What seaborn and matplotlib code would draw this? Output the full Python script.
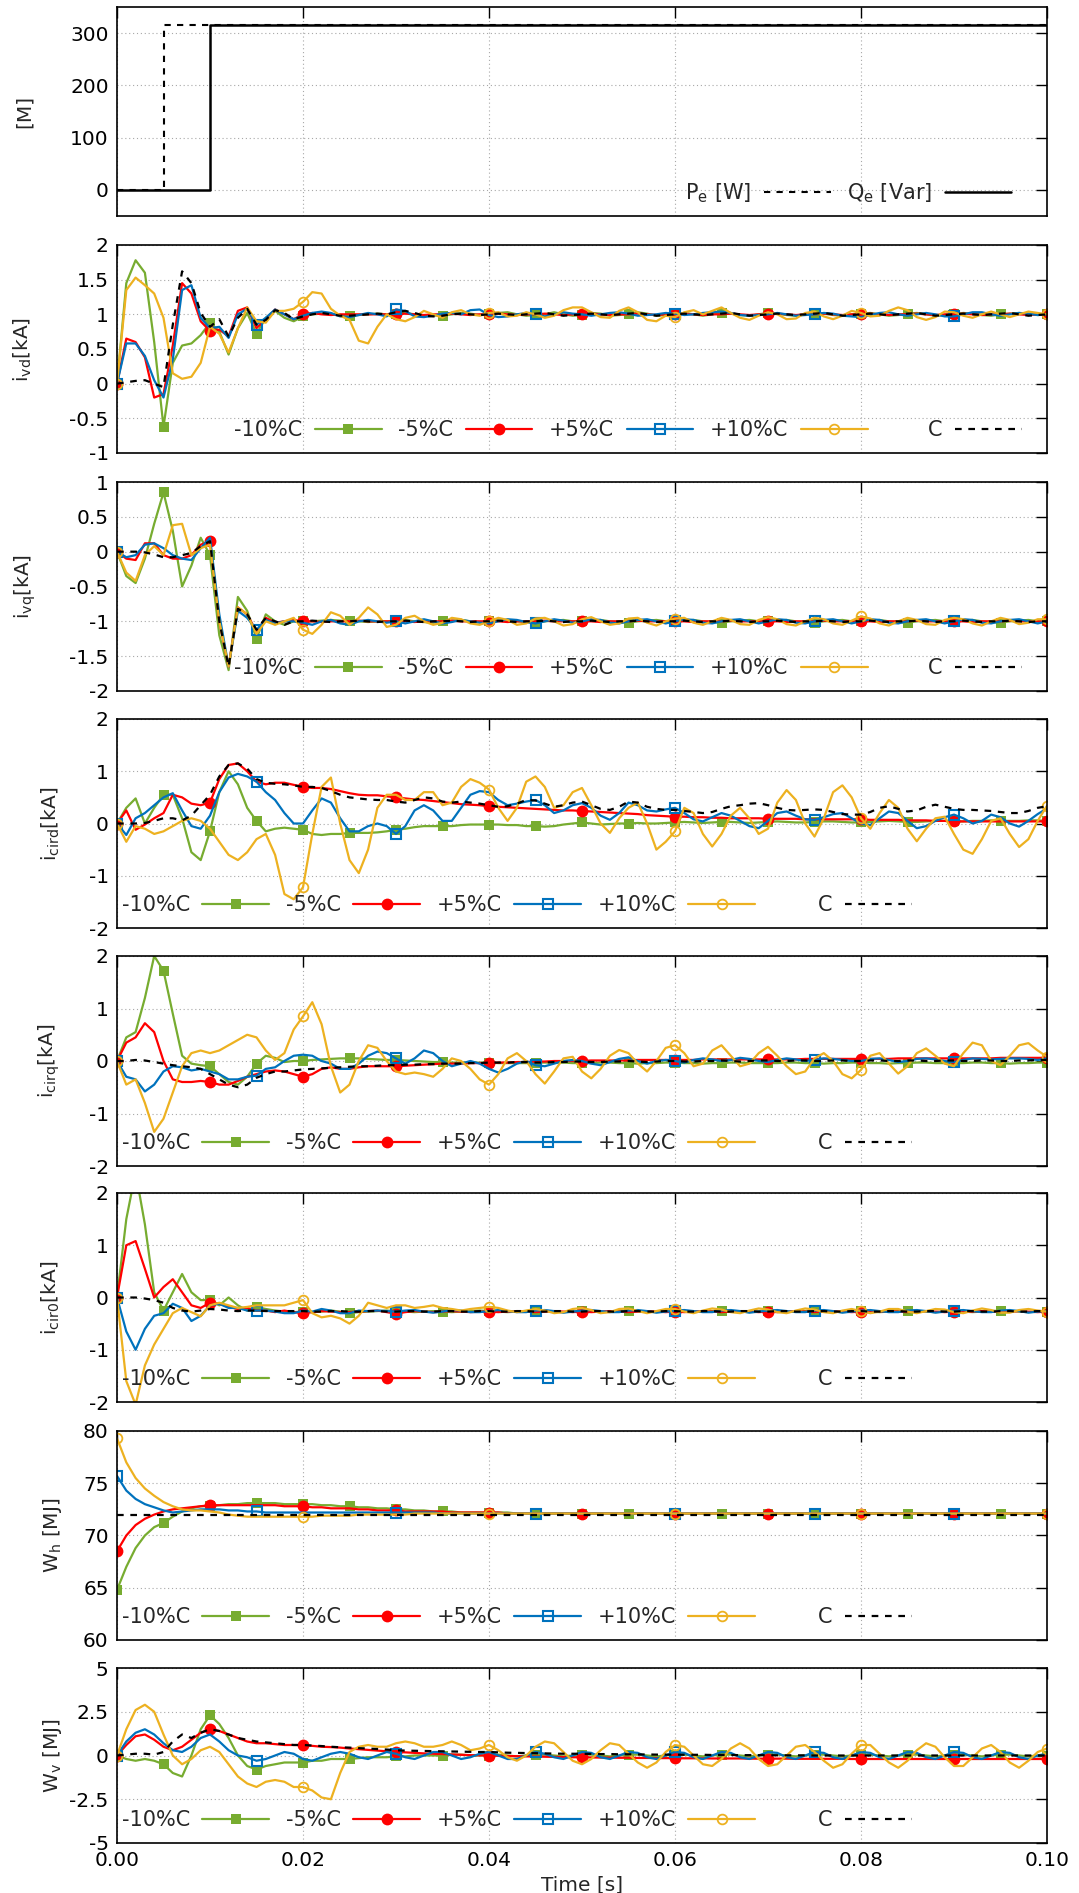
import numpy as np
import matplotlib
matplotlib.use("Agg")
import matplotlib.pyplot as plt
import seaborn as sns
from matplotlib.ticker import FuncFormatter, MultipleLocator

# time grid (s), one sample per ms
time_s = np.round(np.arange(101) * 0.001, 3)

# panel 1: power references
p1_time = [0.0, 0.005, 0.01, 0.1]
pe_ref = [0, 315, 315, 315]
qe_ref = [0, 0, 315, 315]

# panel 2: i_vd [kA]
ivd_m10 = [0, 1.45, 1.78, 1.6, 0.6, -0.62, 0.3, 0.55, 0.58, 0.7,
           0.88, 0.75, 0.42, 0.8, 1.02, 0.72, 0.95, 1.05, 0.95, 0.9,
           0.97, 1.0, 1.01, 1.0, 0.99, 0.98, 0.99, 1.0, 1.01, 1.0,
           1.01, 1.02, 1.0, 0.98, 0.99, 0.98, 1.0, 1.02, 1.01, 0.99,
           1.0, 1.02, 1.03, 1.0, 0.98, 0.99, 1.0, 1.03, 1.0, 0.98,
           0.99, 1.02, 1.01, 0.98, 0.99, 1.0, 1.03, 1.01, 0.98, 0.99,
           1.0, 1.02, 1.0, 0.98, 1.0, 1.02, 1.01, 0.99, 0.98, 1.0,
           1.02, 1.01, 0.99, 0.98, 1.0, 1.02, 1.01, 0.99, 0.98, 1.0,
           1.01, 1.02, 1.0, 0.98, 0.99, 1.01, 1.02, 1.0, 0.98, 0.99,
           1.0, 1.02, 1.01, 0.99, 0.98, 1.0, 1.01, 1.02, 1.0, 0.99,
           1.0]
ivd_m5 = [0, 0.65, 0.6, 0.38, -0.2, -0.15, 0.55, 1.45, 1.3, 0.9,
          0.76, 0.78, 0.68, 1.05, 1.1, 0.8, 0.93, 1.07, 1.0, 0.93,
          1.0, 1.02, 1.0, 0.99, 1.0, 1.0, 1.0, 1.0, 1.0, 1.0,
          1.0, 1.01, 1.0, 0.99, 1.0, 1.0, 1.01, 1.0, 0.99, 1.0,
          1.0, 1.01, 1.0, 0.99, 1.0, 1.0, 1.01, 1.0, 0.99, 1.0,
          1.0, 1.01, 1.0, 0.99, 1.0, 1.0, 1.01, 1.0, 0.99, 1.0,
          1.0, 1.01, 1.0, 0.99, 1.0, 1.0, 1.01, 1.0, 0.99, 1.0,
          1.0, 1.01, 1.0, 0.99, 1.0, 1.0, 1.01, 1.0, 0.99, 1.0,
          1.0, 1.01, 1.0, 0.99, 1.0, 1.0, 1.01, 1.0, 0.99, 1.0,
          1.0, 1.01, 1.0, 0.99, 1.0, 1.0, 1.01, 1.0, 0.99, 1.0,
          1.0]
ivd_p5 = [0, 0.58, 0.58, 0.4, 0.05, -0.2, 0.35, 1.35, 1.42, 0.95,
          0.8, 0.82, 0.66, 1.0, 1.08, 0.85, 0.95, 1.07, 1.0, 0.93,
          0.98, 1.02, 1.04, 1.02, 0.97, 0.96, 0.99, 1.02, 1.0, 0.97,
          1.07, 1.05, 0.97, 0.96, 0.98, 1.01, 1.02, 1.0, 1.06, 1.07,
          0.99, 0.96, 0.97, 1.0, 1.02, 1.0, 0.97, 1.0, 1.03, 1.01,
          1.0, 0.98, 1.0, 1.02, 1.03, 1.01, 0.98, 0.99, 1.0, 1.02,
          1.01, 0.99, 1.0, 1.02, 1.03, 1.04, 1.02, 0.99, 0.98, 0.99,
          1.0, 1.02, 1.0, 0.98, 0.99, 1.0, 1.02, 1.01, 0.98, 0.97,
          0.96, 0.99, 1.02, 1.03, 1.0, 0.98, 1.0, 1.02, 1.0, 0.97,
          0.97, 1.0, 1.03, 1.03, 1.0, 0.98, 1.0, 1.02, 1.01, 0.99,
          1.0]
ivd_p10 = [0, 1.35, 1.53, 1.42, 1.3, 0.95, 0.15, 0.07, 0.1, 0.3,
           0.82, 0.72, 0.45, 0.8, 1.1, 0.9, 0.88, 1.05, 1.05, 1.08,
           1.18, 1.32, 1.3, 1.08, 0.98, 0.92, 0.62, 0.58, 0.82, 1.0,
           0.93, 0.9, 0.96, 1.05, 1.0, 0.95, 1.03, 1.06, 1.0, 0.98,
           1.02, 1.03, 0.97, 0.98, 1.03, 1.0, 0.95, 0.98, 1.06, 1.1,
           1.1, 1.03, 0.96, 0.95, 1.05, 1.1, 1.03, 0.92, 0.9, 0.98,
           0.96, 1.03, 1.06, 1.0, 1.05, 1.1, 1.02, 0.95, 0.92, 0.98,
           1.03, 1.0, 0.93, 0.94, 1.02, 1.04, 0.97, 0.93, 0.98, 1.05,
           1.02, 0.97, 0.98, 1.05, 1.1, 1.06, 0.96, 0.92, 0.96, 1.04,
           1.03, 0.98, 0.95, 1.0, 1.04, 1.0, 0.96, 1.0, 1.04, 1.02,
           1.0]
ivd_c = [0, 0.02, 0.04, 0.05, 0.0, -0.05, 0.85, 1.62, 1.45, 1.02,
         0.82, 0.93, 0.68, 0.95, 1.08, 0.85, 0.92, 1.06, 1.02, 0.93,
         0.97, 1.0, 1.02, 1.0, 0.98, 0.98, 0.99, 1.0, 1.01, 1.0,
         1.03, 1.05, 1.02, 0.98, 0.97, 0.98, 1.0, 1.01, 1.0, 0.99,
         1.0, 1.01, 1.0, 0.99, 1.0, 1.01, 1.02, 1.0, 0.98, 0.99,
         1.0, 1.01, 1.0, 0.99, 1.0, 1.01, 1.02, 1.0, 0.98, 0.99,
         1.0, 1.01, 1.0, 0.99, 1.0, 1.01, 1.02, 1.0, 0.98, 0.99,
         1.0, 1.01, 1.0, 0.99, 1.0, 1.01, 1.02, 1.0, 0.98, 0.99,
         1.0, 1.01, 1.0, 0.99, 1.0, 1.01, 1.02, 1.0, 0.98, 0.99,
         1.0, 1.01, 1.0, 0.99, 1.0, 1.01, 1.02, 1.0, 0.98, 0.99,
         1.0]

# panel 3: i_vq [kA]
ivq_m10 = [0, -0.35, -0.45, -0.1, 0.4, 0.85, 0.3, -0.5, -0.2, 0.2,
           -0.05, -1.2, -1.7, -0.65, -0.85, -1.25, -0.9, -1.0, -1.05, -1.0,
           -1.0, -1.0, -0.99, -0.98, -0.99, -1.0, -1.0, -1.01, -1.0, -1.0,
           -0.99, -0.98, -1.0, -1.01, -1.02, -1.0, -0.99, -0.98, -1.0, -1.01,
           -1.0, -0.99, -0.98, -1.0, -1.01, -1.02, -1.0, -0.99, -0.98, -1.0,
           -1.0, -0.99, -0.98, -1.0, -1.01, -1.02, -1.0, -0.99, -0.98, -1.0,
           -1.0, -0.99, -0.98, -1.0, -1.01, -1.02, -1.0, -0.99, -0.98, -1.0,
           -1.0, -0.99, -0.98, -1.0, -1.01, -1.02, -1.0, -0.99, -0.98, -1.0,
           -1.0, -0.99, -0.98, -1.0, -1.01, -1.02, -1.0, -0.99, -0.98, -1.0,
           -1.0, -0.99, -0.98, -1.0, -1.01, -1.02, -1.0, -0.99, -0.98, -1.0,
           -1.0]
ivq_m5 = [0, -0.1, -0.12, 0.12, 0.12, -0.05, -0.1, -0.1, -0.05, 0.1,
          0.15, -1.0, -1.65, -0.8, -0.9, -1.15, -0.95, -1.02, -1.0, -0.98,
          -1.0, -1.0, -1.01, -1.0, -1.0, -1.0, -0.99, -1.0, -1.0, -1.0,
          -1.0, -1.0, -1.01, -1.0, -1.0, -1.0, -0.99, -1.0, -1.0, -1.0,
          -1.0, -1.0, -1.01, -1.0, -1.0, -1.0, -0.99, -1.0, -1.0, -1.0,
          -1.0, -1.0, -1.01, -1.0, -1.0, -1.0, -0.99, -1.0, -1.0, -1.0,
          -1.0, -1.0, -1.01, -1.0, -1.0, -1.0, -0.99, -1.0, -1.0, -1.0,
          -1.0, -1.0, -1.01, -1.0, -1.0, -1.0, -0.99, -1.0, -1.0, -1.0,
          -1.0, -1.0, -1.01, -1.0, -1.0, -1.0, -0.99, -1.0, -1.0, -1.0,
          -1.0, -1.0, -1.01, -1.0, -1.0, -1.0, -0.99, -1.0, -1.0, -1.0,
          -1.0]
ivq_p5 = [0, -0.08, -0.05, 0.1, 0.12, 0.05, -0.05, -0.1, -0.12, 0.05,
          0.2, -0.9, -1.65, -0.85, -0.95, -1.12, -0.98, -1.03, -1.0, -1.0,
          -1.02, -1.05, -1.0, -0.98, -1.03, -1.05, -1.0, -0.98, -1.0, -1.02,
          -1.0, -1.03, -1.0, -0.97, -1.0, -1.03, -1.01, -0.98, -1.0, -1.02,
          -1.03, -1.0, -0.97, -0.98, -1.01, -1.03, -1.0, -0.97, -0.99, -1.02,
          -1.0, -0.97, -0.98, -1.02, -1.03, -1.0, -0.98, -0.97, -1.0, -1.03,
          -1.0, -0.97, -0.98, -1.02, -1.03, -1.0, -0.98, -0.97, -1.0, -1.03,
          -1.0, -0.97, -0.98, -1.02, -1.03, -1.0, -0.98, -0.97, -1.0, -1.03,
          -1.0, -0.97, -0.98, -1.02, -1.03, -1.0, -0.98, -0.97, -1.0, -1.03,
          -1.0, -0.97, -0.98, -1.02, -1.03, -1.0, -0.98, -0.97, -1.0, -1.03,
          -1.0]
ivq_p10 = [0, -0.3, -0.42, -0.05, 0.08, -0.05, 0.38, 0.4, -0.05, 0.05,
           0.1, -1.0, -1.65, -0.8, -0.9, -1.18, -1.0, -1.05, -1.0, -0.95,
           -1.12, -1.18, -1.05, -0.87, -0.92, -1.05, -0.95, -0.8, -0.9, -1.08,
           -1.05, -0.95, -0.92, -1.0, -1.05, -1.02, -0.95, -0.97, -1.03, -1.05,
           -1.0, -0.95, -0.98, -1.05, -1.03, -0.96, -0.95, -1.0, -1.06, -1.04,
           -0.97, -0.94, -1.0, -1.05, -1.03, -0.96, -0.95, -1.02, -1.06, -1.0,
           -0.96, -0.95, -1.02, -1.05, -1.0, -0.95, -0.98, -1.04, -1.05, -0.98,
           -0.94, -0.97, -1.04, -1.06, -1.0, -0.95, -0.97, -1.03, -1.05, -0.99,
           -0.93, -0.96, -1.03, -1.06, -1.0, -0.95, -0.98, -1.04, -1.05, -0.98,
           -0.95, -0.97, -1.03, -1.06, -1.0, -0.95, -0.98, -1.04, -1.02, -0.97,
           -0.97]
ivq_c = [0, 0.0, 0.0, -0.01, -0.04, -0.08, -0.08, -0.05, -0.02, 0.08,
         0.15, -1.0, -1.65, -0.82, -0.9, -1.12, -0.95, -1.0, -1.05, -1.0,
         -1.0, -0.99, -1.0, -1.01, -1.0, -1.0, -0.99, -1.0, -1.01, -1.0,
         -1.0, -0.99, -1.0, -1.01, -1.0, -1.0, -0.99, -1.0, -1.01, -1.0,
         -1.0, -0.99, -1.0, -1.01, -1.0, -1.0, -0.99, -1.0, -1.01, -1.0,
         -1.0, -0.99, -1.0, -1.01, -1.0, -1.0, -0.99, -1.0, -1.01, -1.0,
         -1.0, -0.99, -1.0, -1.01, -1.0, -1.0, -0.99, -1.0, -1.01, -1.0,
         -1.0, -0.99, -1.0, -1.01, -1.0, -1.0, -0.99, -1.0, -1.01, -1.0,
         -1.0, -0.99, -1.0, -1.01, -1.0, -1.0, -0.99, -1.0, -1.01, -1.0,
         -1.0, -0.99, -1.0, -1.01, -1.0, -1.0, -0.99, -1.0, -1.01, -1.0,
         -1.0]

# panel 4: i_cird [kA]
icd_m10 = [0, 0.3, 0.48, 0.0, 0.3, 0.55, 0.55, 0.1, -0.55, -0.7,
           -0.15, 0.6, 1.0, 0.75, 0.3, 0.05, -0.15, -0.1, -0.08, -0.1,
           -0.12, -0.2, -0.22, -0.2, -0.2, -0.18, -0.18, -0.18, -0.17, -0.15,
           -0.12, -0.1, -0.07, -0.05, -0.05, -0.05, -0.05, -0.03, -0.02, -0.02,
           -0.02, -0.02, -0.03, -0.03, -0.05, -0.05, -0.06, -0.05, -0.02, 0.0,
           0.02, 0.0, -0.02, -0.01, 0.0, 0.0, 0.01, 0.0, 0.0, 0.01,
           0.02, 0.03, 0.02, 0.01, 0.02, 0.03, 0.03, 0.02, 0.01, 0.02,
           0.03, 0.04, 0.03, 0.02, 0.02, 0.03, 0.04, 0.04, 0.03, 0.02,
           0.02, 0.03, 0.04, 0.05, 0.04, 0.03, 0.03, 0.04, 0.05, 0.05,
           0.04, 0.04, 0.05, 0.05, 0.06, 0.05, 0.05, 0.05, 0.06, 0.06,
           0.05]
icd_m5 = [0, 0.25, -0.12, -0.02, 0.1, 0.2, 0.55, 0.5, 0.38, 0.35,
          0.4, 0.85, 1.12, 1.15, 1.0, 0.8, 0.75, 0.78, 0.78, 0.74,
          0.7, 0.68, 0.68, 0.66, 0.62, 0.58, 0.55, 0.54, 0.54, 0.52,
          0.5, 0.48, 0.46, 0.45, 0.43, 0.41, 0.39, 0.37, 0.36, 0.35,
          0.33, 0.32, 0.31, 0.3, 0.29, 0.28, 0.27, 0.26, 0.25, 0.25,
          0.24, 0.23, 0.22, 0.21, 0.2, 0.19, 0.18, 0.16, 0.15, 0.14,
          0.13, 0.13, 0.12, 0.12, 0.11, 0.11, 0.1, 0.1, 0.1, 0.1,
          0.09, 0.09, 0.09, 0.09, 0.08, 0.08, 0.08, 0.08, 0.08, 0.08,
          0.08, 0.07, 0.07, 0.07, 0.07, 0.06, 0.06, 0.06, 0.05, 0.05,
          0.04, 0.04, 0.04, 0.04, 0.04, 0.04, 0.04, 0.04, 0.04, 0.04,
          0.04]
icd_p5 = [0, -0.22, 0.1, 0.2, 0.35, 0.5, 0.58, 0.25, -0.05, -0.1,
          0.15, 0.6, 0.88, 0.95, 0.9, 0.8, 0.6, 0.45, 0.2, 0.0,
          0.0, 0.25, 0.48, 0.4, 0.1, -0.15, -0.15, -0.05, 0.0, -0.05,
          -0.2, -0.05, 0.25, 0.35, 0.25, 0.05, 0.05, 0.3, 0.55, 0.62,
          0.6, 0.45, 0.35, 0.38, 0.42, 0.45, 0.35, 0.2, 0.25, 0.35,
          0.39, 0.3, 0.15, 0.07, 0.2, 0.4, 0.35, 0.25, 0.23, 0.27,
          0.3, 0.2, 0.08, 0.04, 0.12, 0.2, 0.15, 0.05, -0.05, -0.09,
          0.05, 0.2, 0.23, 0.15, 0.08, 0.07, 0.12, 0.18, 0.2, 0.1,
          0.0, -0.03, 0.1, 0.23, 0.2, 0.05, -0.09, -0.05, 0.05, 0.12,
          0.17, 0.1, 0.0, 0.05, 0.17, 0.12, 0.0, -0.06, 0.05, 0.18,
          0.29]
icd_p10 = [0, -0.35, -0.05, -0.1, -0.2, -0.15, -0.05, 0.05, 0.1, 0.05,
           -0.1, -0.35, -0.6, -0.7, -0.55, -0.3, -0.2, -0.6, -1.35, -1.45,
           -1.22, -0.2, 0.7, 0.88, 0.0, -0.7, -0.95, -0.5, 0.3, 0.55,
           0.55, 0.45, 0.45, 0.6, 0.6, 0.35, 0.4, 0.7, 0.85, 0.78,
           0.65, 0.3, 0.05, 0.3, 0.8, 0.9, 0.7, 0.3, 0.35, 0.6,
           0.68, 0.35, 0.0, -0.18, 0.1, 0.3, 0.4, 0.0, -0.5, -0.35,
           -0.15, 0.3, 0.2, -0.2, -0.44, -0.2, 0.15, 0.3, 0.1, -0.2,
           -0.1, 0.4, 0.64, 0.45, 0.0, -0.25, 0.1, 0.6, 0.73, 0.5,
           0.1, -0.1, 0.2, 0.45, 0.3, -0.1, -0.34, -0.1, 0.1, 0.13,
           -0.2, -0.5, -0.58, -0.3, 0.05, 0.1, -0.2, -0.45, -0.3, 0.05,
           0.34]
icd_c = [0, 0.0, 0.0, 0.01, 0.05, 0.1, 0.1, 0.06, 0.15, 0.35,
         0.55, 0.9, 1.12, 1.15, 1.05, 0.85, 0.78, 0.76, 0.75, 0.73,
         0.7, 0.7, 0.68, 0.62, 0.55, 0.5, 0.48, 0.46, 0.45, 0.45,
         0.42, 0.4, 0.45, 0.5, 0.48, 0.42, 0.4, 0.42, 0.4, 0.38,
         0.35, 0.32, 0.33, 0.38, 0.45, 0.44, 0.38, 0.32, 0.35, 0.4,
         0.42, 0.35, 0.28, 0.26, 0.32, 0.42, 0.4, 0.32, 0.28, 0.26,
         0.26, 0.24, 0.22, 0.2, 0.22, 0.28, 0.33, 0.35, 0.38, 0.39,
         0.35, 0.3, 0.26, 0.25, 0.26, 0.27, 0.26, 0.22, 0.18, 0.17,
         0.17, 0.22, 0.3, 0.33, 0.28, 0.23, 0.25, 0.32, 0.36, 0.32,
         0.28, 0.26, 0.26, 0.25, 0.24, 0.22, 0.2, 0.2, 0.24, 0.3,
         0.33]

# panel 5: i_cirq [kA]
icq_m10 = [0, 0.45, 0.55, 1.2, 2.0, 1.72, 0.9, 0.1, -0.05, -0.08,
           -0.1, -0.25, -0.4, -0.45, -0.3, -0.05, 0.1, 0.06, -0.02, 0.0,
           0.0, 0.02, 0.03, 0.04, 0.05, 0.05, 0.05, 0.04, 0.03, 0.02,
           0.02, 0.01, 0.0, -0.01, -0.02, -0.02, -0.03, -0.03, -0.03, -0.03,
           -0.03, -0.04, -0.04, -0.04, -0.04, -0.03, -0.03, -0.03, -0.03, -0.04,
           -0.04, -0.04, -0.03, -0.03, -0.04, -0.04, -0.05, -0.04, -0.04, -0.03,
           -0.03, -0.04, -0.04, -0.05, -0.04, -0.04, -0.03, -0.03, -0.04, -0.04,
           -0.04, -0.04, -0.03, -0.03, -0.04, -0.04, -0.05, -0.04, -0.04, -0.03,
           -0.03, -0.04, -0.04, -0.05, -0.04, -0.04, -0.03, -0.03, -0.04, -0.04,
           -0.04, -0.04, -0.03, -0.03, -0.04, -0.04, -0.05, -0.04, -0.04, -0.03,
           -0.03]
icq_m5 = [0, 0.35, 0.45, 0.72, 0.55, 0.0, -0.35, -0.4, -0.4, -0.38,
          -0.4, -0.45, -0.45, -0.38, -0.3, -0.25, -0.2, -0.18, -0.2, -0.25,
          -0.3, -0.25, -0.15, -0.12, -0.15, -0.15, -0.12, -0.1, -0.1, -0.1,
          -0.1, -0.09, -0.08, -0.07, -0.06, -0.05, -0.05, -0.05, -0.04, -0.04,
          -0.04, -0.03, -0.03, -0.02, -0.02, -0.01, -0.01, 0.0, 0.0, 0.0,
          0.0, 0.01, 0.01, 0.01, 0.01, 0.01, 0.02, 0.02, 0.02, 0.02,
          0.02, 0.02, 0.02, 0.03, 0.03, 0.03, 0.03, 0.03, 0.03, 0.03,
          0.03, 0.03, 0.03, 0.03, 0.04, 0.04, 0.04, 0.04, 0.04, 0.04,
          0.04, 0.04, 0.04, 0.04, 0.05, 0.05, 0.05, 0.05, 0.05, 0.05,
          0.05, 0.05, 0.05, 0.05, 0.05, 0.06, 0.06, 0.06, 0.06, 0.06,
          0.06]
icq_p5 = [0, -0.3, -0.35, -0.58, -0.45, -0.2, -0.1, -0.12, -0.18, -0.15,
          -0.2, -0.25, -0.35, -0.35, -0.3, -0.28, -0.15, -0.12, 0.0, 0.1,
          0.12, 0.1, 0.0, -0.05, -0.15, -0.15, -0.05, 0.1, 0.18, 0.15,
          0.05, -0.05, 0.05, 0.2, 0.15, 0.0, -0.1, -0.05, 0.0, -0.05,
          -0.15, -0.22, -0.15, -0.05, 0.0, -0.08, -0.1, -0.05, 0.0, 0.02,
          0.0, -0.05, -0.08, -0.02, 0.04, 0.07, 0.0, -0.05, 0.0, 0.02,
          0.0, -0.03, 0.02, 0.05, 0.03, 0.0, 0.02, 0.06, 0.04, 0.0,
          -0.02, 0.02, 0.05, 0.03, 0.0, 0.02, 0.05, 0.04, 0.02, 0.0,
          0.0, 0.04, 0.05, 0.02, -0.02, 0.0, 0.04, 0.05, 0.03, 0.0,
          -0.02, 0.02, 0.05, 0.04, 0.03, 0.04, 0.05, 0.05, 0.04, 0.02,
          0.05]
icq_p10 = [0, -0.45, -0.35, -0.8, -1.35, -1.1, -0.6, -0.1, 0.15, 0.2,
           0.15, 0.2, 0.3, 0.4, 0.5, 0.45, 0.2, 0.02, 0.15, 0.6,
           0.85, 1.12, 0.7, -0.1, -0.6, -0.45, 0.0, 0.3, 0.25, 0.0,
           -0.2, -0.25, -0.22, -0.25, -0.3, -0.15, 0.05, 0.0, -0.15, -0.35,
           -0.45, -0.25, 0.05, 0.15, 0.0, -0.25, -0.43, -0.2, 0.05, 0.08,
           -0.2, -0.33, -0.15, 0.1, 0.21, 0.15, -0.05, -0.2, 0.0, 0.25,
           0.3, 0.15, -0.1, -0.05, 0.2, 0.3, 0.1, -0.1, -0.05, 0.15,
           0.27, 0.1, -0.1, -0.25, -0.2, 0.05, 0.15, 0.0, -0.25, -0.33,
           -0.17, 0.1, 0.15, -0.05, -0.24, -0.1, 0.15, 0.24, 0.1, -0.05,
           -0.1, 0.15, 0.35, 0.3, 0.0, -0.08, 0.1, 0.3, 0.34, 0.2,
           0.08]
icq_c = [0, 0.0, 0.02, 0.01, -0.02, -0.05, -0.08, -0.1, -0.12, -0.15,
         -0.25, -0.35, -0.45, -0.5, -0.45, -0.32, -0.25, -0.2, -0.2, -0.18,
         -0.16, -0.15, -0.14, -0.13, -0.12, -0.11, -0.1, -0.1, -0.09, -0.08,
         -0.08, -0.07, -0.07, -0.06, -0.06, -0.05, -0.05, -0.05, -0.04, -0.04,
         -0.03, -0.03, -0.03, -0.02, -0.02, -0.03, -0.03, -0.02, -0.02, -0.01,
         -0.01, -0.02, -0.02, -0.01, -0.01, 0.0, -0.01, -0.02, -0.01, 0.0,
         0.0, -0.01, -0.01, 0.0, 0.0, 0.01, 0.0, -0.01, 0.0, 0.01,
         0.01, 0.0, 0.0, 0.01, 0.01, 0.0, 0.0, 0.01, 0.01, 0.0,
         0.0, 0.01, 0.01, 0.0, 0.0, 0.01, 0.01, 0.0, 0.0, 0.01,
         0.01, 0.0, 0.0, 0.01, 0.01, 0.0, 0.0, 0.01, 0.01, 0.02,
         0.02]

# panel 6: i_cir0 [kA]
ic0_m10 = [0, 1.5, 2.4, 1.4, 0.1, -0.25, 0.1, 0.45, 0.1, -0.05,
           -0.05, -0.15, 0.0, -0.15, -0.25, -0.18, -0.22, -0.25, -0.27, -0.28,
           -0.27, -0.28, -0.27, -0.25, -0.27, -0.3, -0.28, -0.27, -0.26, -0.25,
           -0.26, -0.27, -0.28, -0.27, -0.26, -0.27, -0.28, -0.27, -0.26, -0.25,
           -0.26, -0.27, -0.28, -0.27, -0.26, -0.25, -0.26, -0.27, -0.28, -0.27,
           -0.26, -0.27, -0.28, -0.27, -0.26, -0.25, -0.26, -0.27, -0.28, -0.27,
           -0.26, -0.27, -0.28, -0.27, -0.26, -0.25, -0.26, -0.27, -0.28, -0.27,
           -0.26, -0.27, -0.28, -0.27, -0.26, -0.25, -0.26, -0.27, -0.28, -0.27,
           -0.26, -0.27, -0.28, -0.27, -0.26, -0.25, -0.26, -0.27, -0.28, -0.27,
           -0.26, -0.27, -0.28, -0.27, -0.26, -0.25, -0.26, -0.27, -0.28, -0.27,
           -0.27]
ic0_m5 = [0, 1.0, 1.08, 0.55, 0.0, 0.2, 0.35, 0.1, -0.15, -0.2,
          -0.1, -0.12, -0.18, -0.22, -0.2, -0.25, -0.25, -0.28, -0.25, -0.28,
          -0.3, -0.28, -0.26, -0.27, -0.28, -0.28, -0.27, -0.26, -0.25, -0.28,
          -0.31, -0.28, -0.26, -0.27, -0.28, -0.27, -0.26, -0.27, -0.28, -0.27,
          -0.27, -0.28, -0.27, -0.26, -0.27, -0.28, -0.27, -0.26, -0.27, -0.28,
          -0.27, -0.28, -0.27, -0.26, -0.27, -0.28, -0.27, -0.26, -0.27, -0.28,
          -0.27, -0.28, -0.27, -0.26, -0.27, -0.28, -0.27, -0.26, -0.27, -0.28,
          -0.27, -0.28, -0.27, -0.26, -0.27, -0.28, -0.27, -0.26, -0.27, -0.28,
          -0.27, -0.28, -0.27, -0.26, -0.27, -0.28, -0.27, -0.26, -0.27, -0.28,
          -0.27, -0.28, -0.27, -0.26, -0.27, -0.28, -0.27, -0.26, -0.27, -0.28,
          -0.27]
ic0_p5 = [0, -0.65, -1.0, -0.6, -0.35, -0.3, -0.12, -0.2, -0.45, -0.35,
          -0.15, -0.12, -0.2, -0.2, -0.25, -0.25, -0.25, -0.27, -0.3, -0.3,
          -0.25, -0.27, -0.22, -0.25, -0.3, -0.3, -0.25, -0.26, -0.25, -0.26,
          -0.27, -0.25, -0.24, -0.27, -0.29, -0.27, -0.24, -0.25, -0.28, -0.28,
          -0.26, -0.24, -0.26, -0.28, -0.28, -0.25, -0.24, -0.26, -0.29, -0.27,
          -0.25, -0.24, -0.26, -0.28, -0.28, -0.25, -0.24, -0.26, -0.29, -0.27,
          -0.25, -0.24, -0.26, -0.28, -0.28, -0.25, -0.24, -0.26, -0.29, -0.27,
          -0.25, -0.24, -0.26, -0.28, -0.28, -0.25, -0.24, -0.26, -0.29, -0.27,
          -0.25, -0.24, -0.26, -0.28, -0.28, -0.25, -0.24, -0.26, -0.29, -0.27,
          -0.25, -0.24, -0.26, -0.28, -0.28, -0.25, -0.24, -0.26, -0.29, -0.27,
          -0.26]
ic0_p10 = [0, -1.6, -2.05, -1.3, -0.9, -0.6, -0.3, -0.2, -0.28, -0.36,
           -0.15, -0.1, -0.15, -0.2, -0.18, -0.15, -0.15, -0.15, -0.15, -0.1,
           -0.05, -0.3, -0.38, -0.35, -0.4, -0.5, -0.35, -0.1, -0.15, -0.2,
           -0.15, -0.15, -0.2, -0.18, -0.15, -0.2, -0.22, -0.25, -0.22, -0.2,
           -0.18, -0.2, -0.25, -0.28, -0.25, -0.22, -0.25, -0.3, -0.28, -0.22,
           -0.2, -0.24, -0.3, -0.28, -0.22, -0.21, -0.26, -0.3, -0.26, -0.22,
           -0.22, -0.27, -0.3, -0.25, -0.21, -0.23, -0.28, -0.3, -0.25, -0.21,
           -0.23, -0.28, -0.3, -0.25, -0.21, -0.23, -0.28, -0.3, -0.25, -0.22,
           -0.26, -0.3, -0.27, -0.22, -0.22, -0.27, -0.3, -0.26, -0.22, -0.23,
           -0.28, -0.3, -0.25, -0.21, -0.24, -0.29, -0.29, -0.24, -0.22, -0.25,
           -0.27]
ic0_c = [0, 0.0, 0.0, -0.02, -0.05, -0.1, -0.2, -0.25, -0.27, -0.25,
         -0.22, -0.23, -0.25, -0.26, -0.25, -0.25, -0.26, -0.26, -0.26, -0.26,
         -0.26, -0.27, -0.27, -0.26, -0.26, -0.27, -0.27, -0.26, -0.26, -0.27,
         -0.27, -0.26, -0.26, -0.27, -0.27, -0.26, -0.26, -0.27, -0.27, -0.26,
         -0.26, -0.27, -0.27, -0.26, -0.26, -0.27, -0.27, -0.26, -0.26, -0.27,
         -0.27, -0.26, -0.26, -0.27, -0.27, -0.26, -0.26, -0.27, -0.27, -0.26,
         -0.26, -0.27, -0.27, -0.26, -0.26, -0.27, -0.27, -0.26, -0.26, -0.27,
         -0.27, -0.26, -0.26, -0.27, -0.27, -0.26, -0.26, -0.27, -0.27, -0.26,
         -0.26, -0.27, -0.27, -0.26, -0.26, -0.27, -0.27, -0.26, -0.26, -0.27,
         -0.27, -0.26, -0.26, -0.27, -0.27, -0.26, -0.26, -0.27, -0.27, -0.26,
         -0.26]

# panel 7: W_h [MJ]
wh_m10 = [64.8, 67.0, 68.8, 70.0, 70.8, 71.2, 71.8, 72.3, 72.6, 72.8,
          72.8, 72.9, 73.0, 73.0, 73.1, 73.1, 73.1, 73.1, 73.0, 73.0,
          73.0, 73.0, 72.9, 72.9, 72.8, 72.8, 72.7, 72.7, 72.6, 72.6,
          72.5, 72.5, 72.4, 72.4, 72.3, 72.3, 72.3, 72.2, 72.2, 72.2,
          72.2, 72.2, 72.2, 72.1, 72.1, 72.1, 72.1, 72.1, 72.1, 72.1,
          72.1, 72.1, 72.1, 72.1, 72.1, 72.1, 72.1, 72.1, 72.1, 72.1,
          72.1, 72.1, 72.1, 72.1, 72.1, 72.1, 72.1, 72.1, 72.1, 72.1,
          72.1, 72.1, 72.1, 72.1, 72.1, 72.1, 72.1, 72.1, 72.1, 72.1,
          72.1, 72.1, 72.1, 72.1, 72.1, 72.1, 72.1, 72.1, 72.1, 72.1,
          72.1, 72.1, 72.1, 72.1, 72.1, 72.1, 72.1, 72.1, 72.1, 72.1,
          72.1]
wh_m5 = [68.5, 70.0, 71.0, 71.6, 72.0, 72.3, 72.5, 72.6, 72.7, 72.8,
         72.9, 72.9, 72.9, 72.9, 72.9, 72.9, 72.9, 72.9, 72.8, 72.8,
         72.8, 72.7, 72.7, 72.6, 72.6, 72.6, 72.5, 72.5, 72.4, 72.4,
         72.4, 72.3, 72.3, 72.3, 72.3, 72.3, 72.2, 72.2, 72.2, 72.2,
         72.2, 72.2, 72.1, 72.1, 72.1, 72.1, 72.1, 72.1, 72.1, 72.1,
         72.1, 72.1, 72.1, 72.1, 72.1, 72.1, 72.1, 72.1, 72.1, 72.1,
         72.1, 72.1, 72.1, 72.1, 72.1, 72.1, 72.1, 72.1, 72.1, 72.1,
         72.1, 72.1, 72.1, 72.1, 72.1, 72.1, 72.1, 72.1, 72.1, 72.1,
         72.1, 72.1, 72.1, 72.1, 72.1, 72.1, 72.1, 72.1, 72.1, 72.1,
         72.1, 72.1, 72.1, 72.1, 72.1, 72.1, 72.1, 72.1, 72.1, 72.1,
         72.1]
wh_p5 = [75.7, 74.3, 73.5, 73.0, 72.7, 72.4, 72.2, 72.3, 72.4, 72.5,
         72.5, 72.5, 72.4, 72.4, 72.3, 72.3, 72.2, 72.2, 72.2, 72.2,
         72.2, 72.2, 72.2, 72.2, 72.2, 72.2, 72.2, 72.2, 72.2, 72.2,
         72.2, 72.2, 72.2, 72.2, 72.2, 72.1, 72.1, 72.1, 72.1, 72.1,
         72.1, 72.1, 72.1, 72.1, 72.1, 72.1, 72.1, 72.1, 72.1, 72.1,
         72.1, 72.1, 72.1, 72.1, 72.1, 72.1, 72.1, 72.1, 72.1, 72.1,
         72.1, 72.1, 72.1, 72.1, 72.1, 72.1, 72.1, 72.1, 72.1, 72.1,
         72.1, 72.1, 72.1, 72.1, 72.1, 72.1, 72.1, 72.1, 72.1, 72.1,
         72.1, 72.1, 72.1, 72.1, 72.1, 72.1, 72.1, 72.1, 72.1, 72.1,
         72.1, 72.1, 72.1, 72.1, 72.1, 72.1, 72.1, 72.1, 72.1, 72.1,
         72.1]
wh_p10 = [79.3, 77.0, 75.5, 74.5, 73.8, 73.2, 72.8, 72.5, 72.4, 72.4,
          72.3, 72.2, 72.0, 71.9, 71.8, 71.8, 71.8, 71.8, 71.8, 71.8,
          71.8, 71.8, 71.9, 71.9, 71.9, 71.9, 72.0, 72.0, 72.0, 72.0,
          72.0, 72.0, 72.1, 72.1, 72.1, 72.1, 72.1, 72.1, 72.1, 72.1,
          72.1, 72.1, 72.1, 72.1, 72.1, 72.1, 72.1, 72.1, 72.1, 72.1,
          72.1, 72.1, 72.1, 72.1, 72.1, 72.1, 72.1, 72.1, 72.1, 72.1,
          72.1, 72.1, 72.1, 72.1, 72.1, 72.1, 72.1, 72.1, 72.1, 72.1,
          72.1, 72.1, 72.1, 72.1, 72.1, 72.1, 72.1, 72.1, 72.1, 72.1,
          72.1, 72.1, 72.1, 72.1, 72.1, 72.1, 72.1, 72.1, 72.1, 72.1,
          72.1, 72.1, 72.1, 72.1, 72.1, 72.1, 72.1, 72.1, 72.1, 72.1,
          72.1]
wh_c = [72.0, 72.0, 72.0, 72.0, 72.0, 72.0, 72.0, 72.0, 72.0, 72.0,
        72.0, 72.0, 72.0, 72.0, 72.0, 72.0, 72.0, 72.0, 72.0, 72.0,
        72.0, 72.0, 72.0, 72.0, 72.0, 72.0, 72.0, 72.0, 72.0, 72.0,
        72.0, 72.0, 72.0, 72.0, 72.0, 72.0, 72.0, 72.0, 72.0, 72.0,
        72.0, 72.0, 72.0, 72.0, 72.0, 72.0, 72.0, 72.0, 72.0, 72.0,
        72.0, 72.0, 72.0, 72.0, 72.0, 72.0, 72.0, 72.0, 72.0, 72.0,
        72.0, 72.0, 72.0, 72.0, 72.0, 72.0, 72.0, 72.0, 72.0, 72.0,
        72.0, 72.0, 72.0, 72.0, 72.0, 72.0, 72.0, 72.0, 72.0, 72.0,
        72.0, 72.0, 72.0, 72.0, 72.0, 72.0, 72.0, 72.0, 72.0, 72.0,
        72.0, 72.0, 72.0, 72.0, 72.0, 72.0, 72.0, 72.0, 72.0, 72.0,
        72.0]

# panel 8: W_v [MJ]
wv_m10 = [0, -0.2, -0.3, -0.2, -0.3, -0.5, -1.0, -1.2, 0.0, 1.5,
          2.3, 1.8, 1.0, 0.0, -0.6, -0.8, -0.6, -0.5, -0.4, -0.4,
          -0.4, -0.3, -0.3, -0.2, -0.2, -0.2, -0.15, -0.1, -0.1, -0.1,
          -0.05, -0.05, 0.0, 0.0, 0.0, 0.0, 0.05, 0.05, 0.0, 0.0,
          0.0, 0.05, 0.0, -0.05, 0.0, 0.05, 0.05, 0.0, -0.05, 0.0,
          0.05, 0.05, 0.0, -0.05, 0.0, 0.05, 0.05, 0.0, -0.05, 0.0,
          0.05, 0.05, 0.0, -0.05, 0.0, 0.05, 0.05, 0.0, -0.05, 0.0,
          0.05, 0.05, 0.0, -0.05, 0.0, 0.05, 0.05, 0.0, -0.05, 0.0,
          0.05, 0.05, 0.0, -0.05, 0.0, 0.05, 0.05, 0.0, -0.05, 0.0,
          0.05, 0.05, 0.0, -0.05, 0.0, 0.05, 0.05, 0.0, -0.05, 0.0,
          0.0]
wv_m5 = [0, 0.6, 1.1, 1.2, 0.9, 0.5, 0.3, 0.5, 0.9, 1.3,
         1.5, 1.4, 1.2, 1.0, 0.8, 0.7, 0.7, 0.65, 0.6, 0.6,
         0.6, 0.55, 0.5, 0.48, 0.45, 0.4, 0.36, 0.32, 0.28, 0.24,
         0.2, 0.18, 0.15, 0.12, 0.1, 0.08, 0.06, 0.04, 0.02, 0.01,
         0.0, -0.02, -0.03, -0.04, -0.05, -0.06, -0.07, -0.08, -0.09, -0.1,
         -0.1, -0.11, -0.12, -0.12, -0.13, -0.13, -0.14, -0.14, -0.15, -0.15,
         -0.15, -0.16, -0.16, -0.16, -0.17, -0.17, -0.17, -0.17, -0.18, -0.18,
         -0.18, -0.18, -0.18, -0.19, -0.19, -0.19, -0.19, -0.19, -0.19, -0.2,
         -0.2, -0.2, -0.2, -0.2, -0.2, -0.2, -0.2, -0.2, -0.2, -0.2,
         -0.2, -0.2, -0.2, -0.2, -0.2, -0.2, -0.2, -0.2, -0.2, -0.2,
         -0.2]
wv_p5 = [0, 0.8, 1.3, 1.5, 1.2, 0.7, 0.3, 0.2, 0.5, 1.0,
         1.2, 0.8, 0.3, 0.0, -0.1, -0.3, -0.2, 0.0, 0.2, 0.1,
         -0.2, -0.3, -0.1, 0.1, 0.2, 0.1, -0.1, -0.2, 0.0, 0.2,
         0.1, -0.1, -0.2, 0.0, 0.2, 0.2, 0.0, -0.2, -0.1, 0.1,
         0.2, 0.0, -0.2, -0.2, 0.0, 0.2, 0.1, -0.1, -0.2, 0.0,
         0.2, 0.15, -0.1, -0.2, 0.0, 0.2, 0.15, -0.1, -0.2, 0.0,
         0.2, 0.15, -0.1, -0.2, 0.0, 0.2, 0.15, -0.1, -0.2, 0.0,
         0.2, 0.15, -0.1, -0.2, 0.0, 0.2, 0.15, -0.1, -0.2, 0.0,
         0.2, 0.15, -0.1, -0.2, 0.0, 0.2, 0.15, -0.1, -0.2, 0.0,
         0.2, 0.15, -0.1, -0.2, 0.0, 0.2, 0.15, -0.1, -0.2, 0.0,
         0.1]
wv_p10 = [0, 1.5, 2.6, 2.9, 2.5, 1.2, 0.0, -0.5, -0.2, 0.3,
          0.5, 0.2, -0.5, -1.2, -1.6, -1.8, -1.5, -1.4, -1.5, -1.8,
          -1.8, -2.0, -2.4, -2.5, -1.0, 0.2, 0.5, 0.6, 0.5, 0.5,
          0.7, 0.8, 0.7, 0.5, 0.5, 0.6, 0.8, 0.6, 0.3, 0.4,
          0.6, 0.3, -0.1, -0.3, 0.0, 0.5, 0.8, 0.7, 0.2, -0.3,
          -0.5, -0.2, 0.3, 0.7, 0.6, 0.1, -0.4, -0.7, -0.4, 0.2,
          0.6, 0.5, 0.0, -0.5, -0.6, -0.2, 0.4, 0.7, 0.4, -0.2,
          -0.6, -0.5, 0.0, 0.5, 0.6, 0.2, -0.3, -0.7, -0.5, 0.1,
          0.6, 0.6, 0.1, -0.4, -0.7, -0.3, 0.3, 0.7, 0.5, -0.1,
          -0.6, -0.6, -0.1, 0.4, 0.6, 0.2, -0.4, -0.7, -0.3, 0.2,
          0.4]
wv_c = [0, 0.05, 0.1, 0.1, 0.05, 0.2, 0.8, 1.2, 1.0, 1.3,
        1.5, 1.4, 1.2, 1.0, 0.9, 0.8, 0.75, 0.7, 0.65, 0.6,
        0.6, 0.57, 0.54, 0.5, 0.47, 0.45, 0.42, 0.4, 0.37, 0.34,
        0.3, 0.28, 0.27, 0.26, 0.25, 0.24, 0.23, 0.22, 0.21, 0.2,
        0.2, 0.18, 0.16, 0.15, 0.14, 0.13, 0.12, 0.11, 0.1, 0.1,
        0.1, 0.09, 0.08, 0.08, 0.07, 0.07, 0.06, 0.06, 0.05, 0.05,
        0.05, 0.04, 0.04, 0.04, 0.03, 0.03, 0.03, 0.02, 0.02, 0.02,
        0.02, 0.01, 0.01, 0.01, 0.01, 0.0, 0.0, 0.0, 0.0, 0.0,
        0.0, 0.0, 0.0, 0.0, 0.0, 0.0, 0.0, 0.0, 0.0, 0.0,
        0.0, 0.0, 0.0, 0.0, 0.0, 0.0, 0.0, 0.0, 0.0, 0.0,
        0.0]

case_labels = ["-10%C", "-5%C", "+5%C", "+10%C", "C"]

# ---- styling ----
sns.set_theme(style="white")
plt.rcParams["font.family"] = ["DejaVu Sans"]
plt.rcParams["axes.unicode_minus"] = False
plt.rcParams["mathtext.default"] = "regular"
FS = 14.5

GREEN, RED, BLUE, ORANGE = "#77ac30", "#ff0000", "#0072bd", "#edb120"
series_style = [
    dict(color=GREEN, marker="s", ms=7.5, mfc=GREEN, mew=0, every=5),
    dict(color=RED, marker="o", ms=8.5, mfc=RED, mew=0, every=10),
    dict(color=BLUE, marker="s", ms=6.5, mfc="none", mew=1.5, every=15),
    dict(color=ORANGE, marker="o", ms=7, mfc="none", mew=1.3, every=20),
    dict(color="black", marker=None, ms=0, mfc="none", mew=0, every=None),
]

W, H = 1079, 1893
LEFT, RIGHT = 117, 1047
# panel boxes in pixels (top, bottom); the bottom panel is shorter, it carries the x labels
boxes = [(7, 216), (245, 453), (482, 691), (719, 928),
         (956, 1166), (1193, 1402), (1431, 1640), (1668, 1843)]

panels = [
    (r"$\mathregular{i_{vd}[kA]}$", [ivd_m10, ivd_m5, ivd_p5, ivd_p10, ivd_c], (-1, 2), 0.5, 0.126, 0.872, -0.089),
    (r"$\mathregular{i_{vq}[kA]}$", [ivq_m10, ivq_m5, ivq_p5, ivq_p10, ivq_c], (-2, 1), 0.5, 0.126, 0.872, -0.085),
    (r"$\mathregular{i_{cird}[kA]}$", [icd_m10, icd_m5, icd_p5, icd_p10, icd_c], (-2, 2), 1, 0.005, 0.754, -0.059),
    (r"$\mathregular{i_{cirq}[kA]}$", [icq_m10, icq_m5, icq_p5, icq_p10, icq_c], (-2, 2), 1, 0.005, 0.754, -0.059),
    (r"$\mathregular{i_{cir0}[kA]}$", [ic0_m10, ic0_m5, ic0_p5, ic0_p10, ic0_c], (-2, 2), 1, 0.005, 0.754, -0.059),
    (r"$\mathregular{W_h\ [MJ]}$", [wh_m10, wh_m5, wh_p5, wh_p10, wh_c], (60, 80), 5, 0.005, 0.754, -0.057),
    (r"$\mathregular{W_v\ [MJ]}$", [wv_m10, wv_m5, wv_p5, wv_p10, wv_c], (-5, 5), 2.5, 0.005, 0.754, -0.057),
]

fig = plt.figure(figsize=(W / 100, H / 100), dpi=100)
fig.patch.set_facecolor("white")


def make_axes(top, bottom):
    ax = fig.add_axes([LEFT / W, 1 - bottom / H, (RIGHT - LEFT) / W, (bottom - top) / H])
    ax.set_facecolor("white")
    for s in ax.spines.values():
        s.set_color("black")
        s.set_linewidth(1.2)
    ax.set_xlim(0, 0.1)
    ax.xaxis.set_major_locator(MultipleLocator(0.02))
    ax.tick_params(direction="in", top=True, right=True, length=8, width=1,
                   labelsize=FS, colors="black", pad=6)
    ax.grid(True, color="#a8a8a8", linestyle=(0, (1, 2.5)), linewidth=0.8)
    return ax


gfmt = FuncFormatter(lambda v, p: f"{v:g}")
leg_kw = dict(frameon=False, markerfirst=False, numpoints=1, handlelength=3.2,
              handletextpad=0.6, columnspacing=0.8, borderpad=0, borderaxespad=0,
              fontsize=15, loc="center left")

# panel 1
ax = make_axes(*boxes[0])
sns.lineplot(x=p1_time, y=pe_ref, ax=ax, color="black", linewidth=1.5,
             linestyle=(0, (3, 3)), drawstyle="steps-post", legend=False, errorbar=None)
sns.lineplot(x=p1_time, y=qe_ref, ax=ax, color="black", linewidth=1.8,
             drawstyle="steps-post", legend=False, errorbar=None)
ax.set_ylim(-50, 350)
ax.yaxis.set_major_locator(MultipleLocator(100))
ax.yaxis.set_major_formatter(gfmt)
ax.set_xticklabels([])
ax.set_xlabel("")
ax.set_ylabel("[M]", fontsize=FS)
ax.yaxis.set_label_coords(-0.089, 0.5)
ax.legend(handles=ax.get_lines()[:2],
          labels=[r"$\mathregular{P_e}$ [W]", r"$\mathregular{Q_e}$ [Var]"],
          bbox_to_anchor=(0.611, 0.11), ncol=2, **leg_kw)

for i, (ylab, data, ylim, ystep, x4, xc, ylx) in enumerate(panels):
    top, bottom = boxes[i + 1]
    ax = make_axes(top, bottom)
    for vals, st in zip(data, series_style):
        assert len(vals) == 101
        if st["marker"] is None:
            sns.lineplot(x=time_s, y=vals, ax=ax, color="black", linewidth=1.6,
                         linestyle=(0, (3, 3)), legend=False, errorbar=None, zorder=5)
        else:
            sns.lineplot(x=time_s, y=vals, ax=ax, color=st["color"], linewidth=1.6,
                         marker=st["marker"], markersize=st["ms"],
                         markerfacecolor=st["mfc"], markeredgecolor=st["color"],
                         markeredgewidth=st["mew"], markevery=st["every"],
                         legend=False, errorbar=None)
    ax.set_ylim(*ylim)
    ax.yaxis.set_major_locator(MultipleLocator(ystep))
    ax.yaxis.set_major_formatter(gfmt)
    ax.set_ylabel(ylab, fontsize=FS)
    ax.yaxis.set_label_coords(ylx, 0.5)
    # keep the key about 23 px above the lower frame
    ky = 23.0 / (bottom - top)
    lines = ax.get_lines()
    leg1 = ax.legend(handles=lines[:4], labels=case_labels[:4], ncol=4,
                     bbox_to_anchor=(x4, ky), **leg_kw)
    ax.add_artist(leg1)
    ax.legend(handles=[lines[4]], labels=case_labels[4:], ncol=1,
              bbox_to_anchor=(xc, ky), **leg_kw)
    if i == len(panels) - 1:
        ax.xaxis.set_major_formatter(FuncFormatter(lambda v, p: f"{v:.2f}"))
        ax.set_xlabel("Time [s]", fontsize=FS, labelpad=4)
    else:
        ax.set_xticklabels([])
        ax.set_xlabel("")

fig.savefig("out.png", dpi=100, facecolor="white")
